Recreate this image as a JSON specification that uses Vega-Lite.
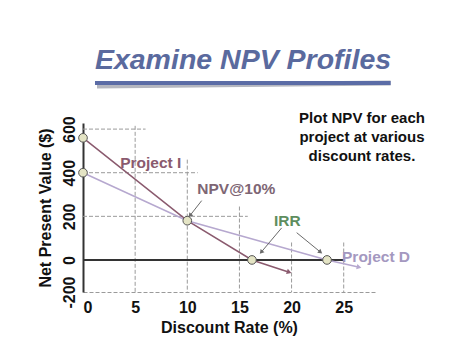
{
  "$schema": "https://vega.github.io/schema/vega-lite/v6.json",
  "width": 292,
  "height": 169,
  "autosize": "none",
  "padding": {"left": 83, "top": 123, "right": 99, "bottom": 63},
  "background": "white",
  "config": {"view": {"stroke": null}, "font": "Liberation Sans"},
  "title": {
    "text": "Examine NPV Profiles",
    "fontSize": 28.5,
    "fontStyle": "italic",
    "fontWeight": "bold",
    "color": "#5a6a9e",
    "anchor": "middle",
    "frame": "group",
    "dx": 14,
    "offset": 6
  },
  "resolve": {"scale": {"color": "independent"}},
  "datasets": {
    "grid": [
      {"rate": 0, "npv": 600, "rate2": 6, "npv2": 600},
      {"rate": 0, "npv": 400, "rate2": 11, "npv2": 400},
      {"rate": 0, "npv": 200, "rate2": 15.8, "npv2": 200},
      {"rate": 5, "npv": 615, "rate2": 5, "npv2": -147},
      {"rate": 10, "npv": 460, "rate2": 10, "npv2": -147},
      {"rate": 15, "npv": 245, "rate2": 15, "npv2": -147},
      {"rate": 20, "npv": 80, "rate2": 20, "npv2": -147},
      {"rate": 25, "npv": 80, "rate2": 25, "npv2": -147}
    ],
    "zero": [{"rate": 0, "npv": 0, "rate2": 25, "npv2": 0}],
    "profiles": [
      {"project": "Project I", "rate": 0, "npv": 560},
      {"project": "Project I", "rate": 10, "npv": 180},
      {"project": "Project I", "rate": 16.2, "npv": 0},
      {"project": "Project I", "rate": 19.7, "npv": -55},
      {"project": "Project D", "rate": 0, "npv": 400},
      {"project": "Project D", "rate": 10, "npv": 180},
      {"project": "Project D", "rate": 23.4, "npv": 0},
      {"project": "Project D", "rate": 26.4, "npv": -32}
    ],
    "markers": [
      {"rate": 0, "npv": 560},
      {"rate": 0, "npv": 400},
      {"rate": 10, "npv": 180},
      {"rate": 16.2, "npv": 0},
      {"rate": 23.4, "npv": 0}
    ],
    "arrows": [
      {"rate": 11.38, "npv": 272, "rate2": 10.3, "npv2": 206},
      {"rate": 19.05, "npv": 147, "rate2": 17.13, "npv2": 38},
      {"rate": 20.49, "npv": 125, "rate2": 22.72, "npv2": 38}
    ],
    "labels": [
      {"label": "Project I", "rate": 6.5, "npv": 444},
      {"label": "NPV@10%", "rate": 14.7, "npv": 325},
      {"label": "IRR", "rate": 19.6, "npv": 179},
      {"label": "Project D", "rate": 28.1, "npv": 14}
    ],
    "note": [{"text": "Plot NPV for each\nproject at various\ndiscount rates.", "rate": 26.75, "npv": 650}],
    "underline": [{"rate": 1.15, "npv": 811, "rate2": 29.5, "npv2": 811}]
  },
  "encoding": {
    "x": {
      "field": "rate",
      "type": "quantitative",
      "scale": {"domain": [0, 28], "nice": false, "zero": false},
      "axis": {
        "values": [0, 5, 10, 15, 20, 25],
        "title": "Discount Rate (%)",
        "grid": false,
        "ticks": false,
        "domainColor": "#9a9a9a",
        "domainDash": [4, 2],
        "labelFontSize": 16,
        "labelFontWeight": "bold",
        "labelColor": "#111",
        "labelPadding": 7,
        "titleFontSize": 16,
        "titleFontWeight": "bold",
        "titleColor": "#111",
        "titlePadding": 4
      }
    },
    "y": {
      "field": "npv",
      "type": "quantitative",
      "scale": {"domain": [-147, 628], "nice": false, "zero": false},
      "axis": {
        "values": [-147, 0, 200, 400, 600],
        "labelExpr": "datum.value < -100 ? '-200' : datum.label",
        "labelAngle": -90,
        "labelAlign": "center",
        "labelBaseline": "bottom",
        "labelPadding": 6,
        "labelFontSize": 16,
        "labelFontWeight": "bold",
        "labelColor": "#111",
        "domainColor": "#333",
        "domainWidth": 2,
        "ticks": false,
        "grid": false,
        "title": "Net Present Value ($)",
        "titleFontSize": 16,
        "titleFontWeight": "bold",
        "titleColor": "#111",
        "titlePadding": 8
      }
    }
  },
  "layer": [
    {
      "data": {"name": "grid"},
      "mark": {"type": "rule", "color": "#9a9a9a", "strokeDash": [4, 2], "strokeWidth": 1},
      "encoding": {"x2": {"field": "rate2"}, "y2": {"field": "npv2"}}
    },
    {
      "data": {"name": "zero"},
      "mark": {"type": "rule", "color": "#333", "strokeWidth": 2},
      "encoding": {"x2": {"field": "rate2"}, "y2": {"field": "npv2"}}
    },
    {
      "data": {"name": "underline"},
      "mark": {"type": "rule", "color": "#b4b6bf", "strokeWidth": 5, "yOffset": 3, "xOffset": 2},
      "encoding": {"x2": {"field": "rate2"}, "y2": {"field": "npv2"}}
    },
    {
      "data": {"name": "underline"},
      "mark": {"type": "rule", "color": "#5b6ca6", "strokeWidth": 4},
      "encoding": {"x2": {"field": "rate2"}, "y2": {"field": "npv2"}}
    },
    {
      "data": {"name": "profiles"},
      "mark": {"type": "line", "strokeWidth": 1.5},
      "encoding": {
        "color": {
          "field": "project",
          "type": "nominal",
          "scale": {"domain": ["Project I", "Project D"], "range": ["#8a5a6e", "#b6a8cf"]},
          "legend": null
        },
        "detail": {"field": "project"}
      }
    },
    {
      "data": {"name": "profiles"},
      "transform": [{"filter": "datum.project == 'Project I' && datum.npv < -50"}],
      "mark": {"type": "point", "shape": "triangle", "filled": true, "size": 30, "angle": 108, "color": "#8a5a6e", "opacity": 1}
    },
    {
      "data": {"name": "profiles"},
      "transform": [{"filter": "datum.project == 'Project D' && datum.npv < -30"}],
      "mark": {"type": "point", "shape": "triangle", "filled": true, "size": 30, "angle": 103, "color": "#b6a8cf", "opacity": 1}
    },
    {
      "data": {"name": "arrows"},
      "mark": {"type": "rule", "color": "#6a6a6a", "strokeWidth": 1},
      "encoding": {"x2": {"field": "rate2"}, "y2": {"field": "npv2"}}
    },
    {
      "data": {"name": "arrows"},
      "transform": [{"filter": "datum.rate > 11 && datum.rate < 12"}],
      "mark": {"type": "point", "shape": "triangle", "filled": true, "size": 25, "angle": 219, "color": "#6a6a6a", "opacity": 1},
      "encoding": {"x": {"field": "rate2", "type": "quantitative"}, "y": {"field": "npv2", "type": "quantitative"}}
    },
    {
      "data": {"name": "arrows"},
      "transform": [{"filter": "datum.rate > 19 && datum.rate < 19.5"}],
      "mark": {"type": "point", "shape": "triangle", "filled": true, "size": 25, "angle": 220, "color": "#6a6a6a", "opacity": 1},
      "encoding": {"x": {"field": "rate2", "type": "quantitative"}, "y": {"field": "npv2", "type": "quantitative"}}
    },
    {
      "data": {"name": "arrows"},
      "transform": [{"filter": "datum.rate > 20 && datum.rate < 21"}],
      "mark": {"type": "point", "shape": "triangle", "filled": true, "size": 25, "angle": 129, "color": "#6a6a6a", "opacity": 1},
      "encoding": {"x": {"field": "rate2", "type": "quantitative"}, "y": {"field": "npv2", "type": "quantitative"}}
    },
    {
      "data": {"name": "markers"},
      "mark": {"type": "circle", "fill": "#e4e4c4", "stroke": "#555", "strokeWidth": 1, "size": 75, "opacity": 1}
    },
    {
      "data": {"name": "labels"},
      "mark": {"type": "text", "fontSize": 15.5, "fontWeight": "bold", "align": "center", "baseline": "middle"},
      "encoding": {
        "text": {"field": "label"},
        "color": {
          "field": "label",
          "type": "nominal",
          "scale": {
            "domain": ["Project I", "NPV@10%", "IRR", "Project D"],
            "range": ["#8a5a6e", "#7e6674", "#5e8e5e", "#a498c0"]
          },
          "legend": null
        }
      }
    },
    {
      "data": {"name": "note"},
      "mark": {"type": "text", "fontSize": 15, "fontWeight": "bold", "align": "center", "baseline": "middle", "lineBreak": "\n", "lineHeight": 19, "color": "#111"},
      "encoding": {"text": {"field": "text"}}
    }
  ]
}
